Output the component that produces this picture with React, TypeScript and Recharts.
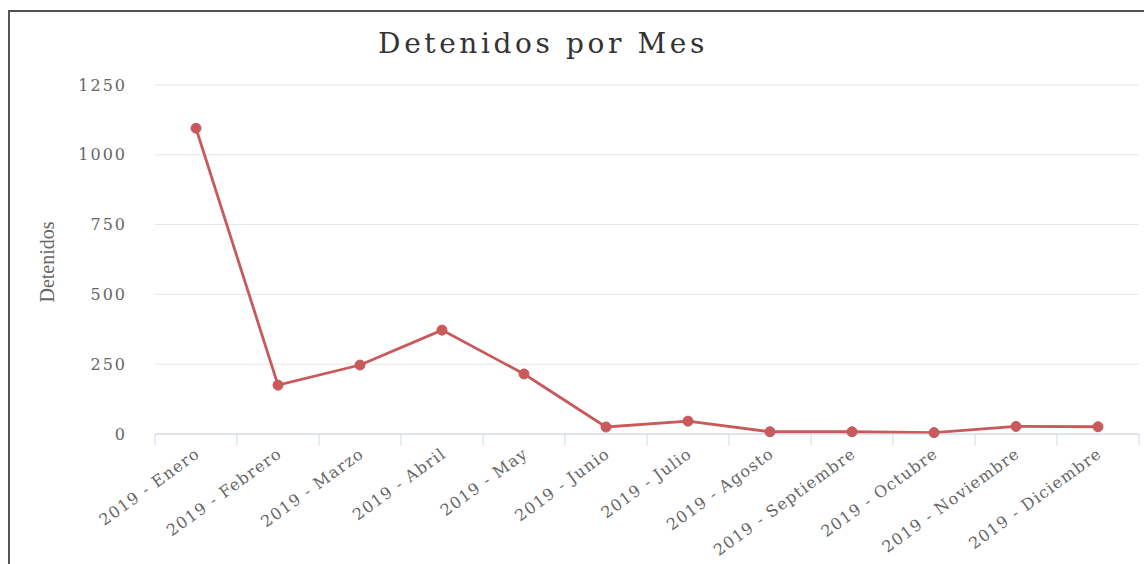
import React from "react";
import { LineChart, Line, XAxis, YAxis, CartesianGrid } from "recharts";

const categories = [
  "2019 - Enero",
  "2019 - Febrero",
  "2019 - Marzo",
  "2019 - Abril",
  "2019 - May",
  "2019 - Junio",
  "2019 - Julio",
  "2019 - Agosto",
  "2019 - Septiembre",
  "2019 - Octubre",
  "2019 - Noviembre",
  "2019 - Diciembre",
];
const detenidos = [1095, 175, 247, 372, 215, 25, 46, 8, 8, 5, 27, 26];
const yTicks = [0, 250, 500, 750, 1000, 1250];

const data = categories.map((c, i) => ({ mes: c, detenidos: detenidos[i] }));

const W = 1144;
const H = 564;
const M = { top: 85, right: 5, left: 0, bottom: 0 };
const X_AXIS_H = 130;
const Y_AXIS_W = 155;
const BAND = (W - M.left - M.right - Y_AXIS_W) / categories.length;

const XTick = (props: any) => {
  const { x, y, payload, index } = props;
  const half = BAND / 2;
  return (
    <g>
      <line x1={x - half} x2={x - half} y1={y - 8} y2={y + 3} stroke="#ccd6eb" />
      {index === categories.length - 1 && (
        <line x1={x + half} x2={x + half} y1={y - 8} y2={y + 3} stroke="#ccd6eb" />
      )}
      <text
        x={x + 5}
        y={y + 14}
        textAnchor="end"
        transform={`rotate(-36, ${x + 5}, ${y + 14})`}
        fill="#666666"
        style={{ fontFamily: "DejaVu Serif", fontSize: 16, letterSpacing: 1.2 }}
      >
        {payload.value}
      </text>
    </g>
  );
};

export default function App() {
  return (
    <div style={{ position: "absolute", left: 0, top: 0, width: W, height: H, background: "#fff" }}>
      <div
        style={{
          position: "absolute",
          left: 8,
          top: 10,
          width: W - 8,
          height: H - 10,
          borderTop: "2px solid #555",
          borderLeft: "2px solid #555",
          boxSizing: "border-box",
        }}
      />
      <div
        style={{
          position: "absolute",
          left: 0,
          width: W,
          top: 27,
          textAlign: "center",
          fontFamily: "DejaVu Serif",
          fontSize: 28,
          letterSpacing: 3.6,
          color: "#333333",
          paddingRight: 58,
          boxSizing: "border-box",
        }}
      >
        Detenidos por Mes
      </div>
      <div
        style={{
          position: "absolute",
          left: 47,
          top: 262,
          transform: "translate(-50%, -50%) rotate(-90deg)",
          fontFamily: "Liberation Serif",
          fontSize: 20,
          color: "#666666",
          whiteSpace: "nowrap",
        }}
      >
        Detenidos
      </div>
      <div style={{ position: "absolute", left: 0, top: 0 }}>
        <LineChart width={W} height={H} data={data} margin={M}>
          <CartesianGrid horizontal={true} vertical={false} stroke="#e6e6e6" />
          <XAxis
            dataKey="mes"
            scale="band"
            interval={0}
            axisLine={{ stroke: "#ccd6eb" }}
            tickLine={false}
            tick={<XTick />}
            tickSize={0}
            tickMargin={8}
            height={X_AXIS_H}
          />
          <YAxis
            domain={[0, 1250]}
            ticks={yTicks}
            width={Y_AXIS_W}
            axisLine={false}
            tickLine={false}
            tickSize={0}
            tickMargin={28}
            tick={{ fill: "#666666", fontFamily: "DejaVu Serif", fontSize: 16, letterSpacing: 2 }}
          />
          <Line
            type="linear"
            dataKey="detenidos"
            stroke="#c85a5c"
            strokeWidth={2.8}
            dot={{ r: 5, fill: "#c85a5c", stroke: "#c85a5c", strokeWidth: 1 }}
            isAnimationActive={false}
          />
        </LineChart>
      </div>
    </div>
  );
}
